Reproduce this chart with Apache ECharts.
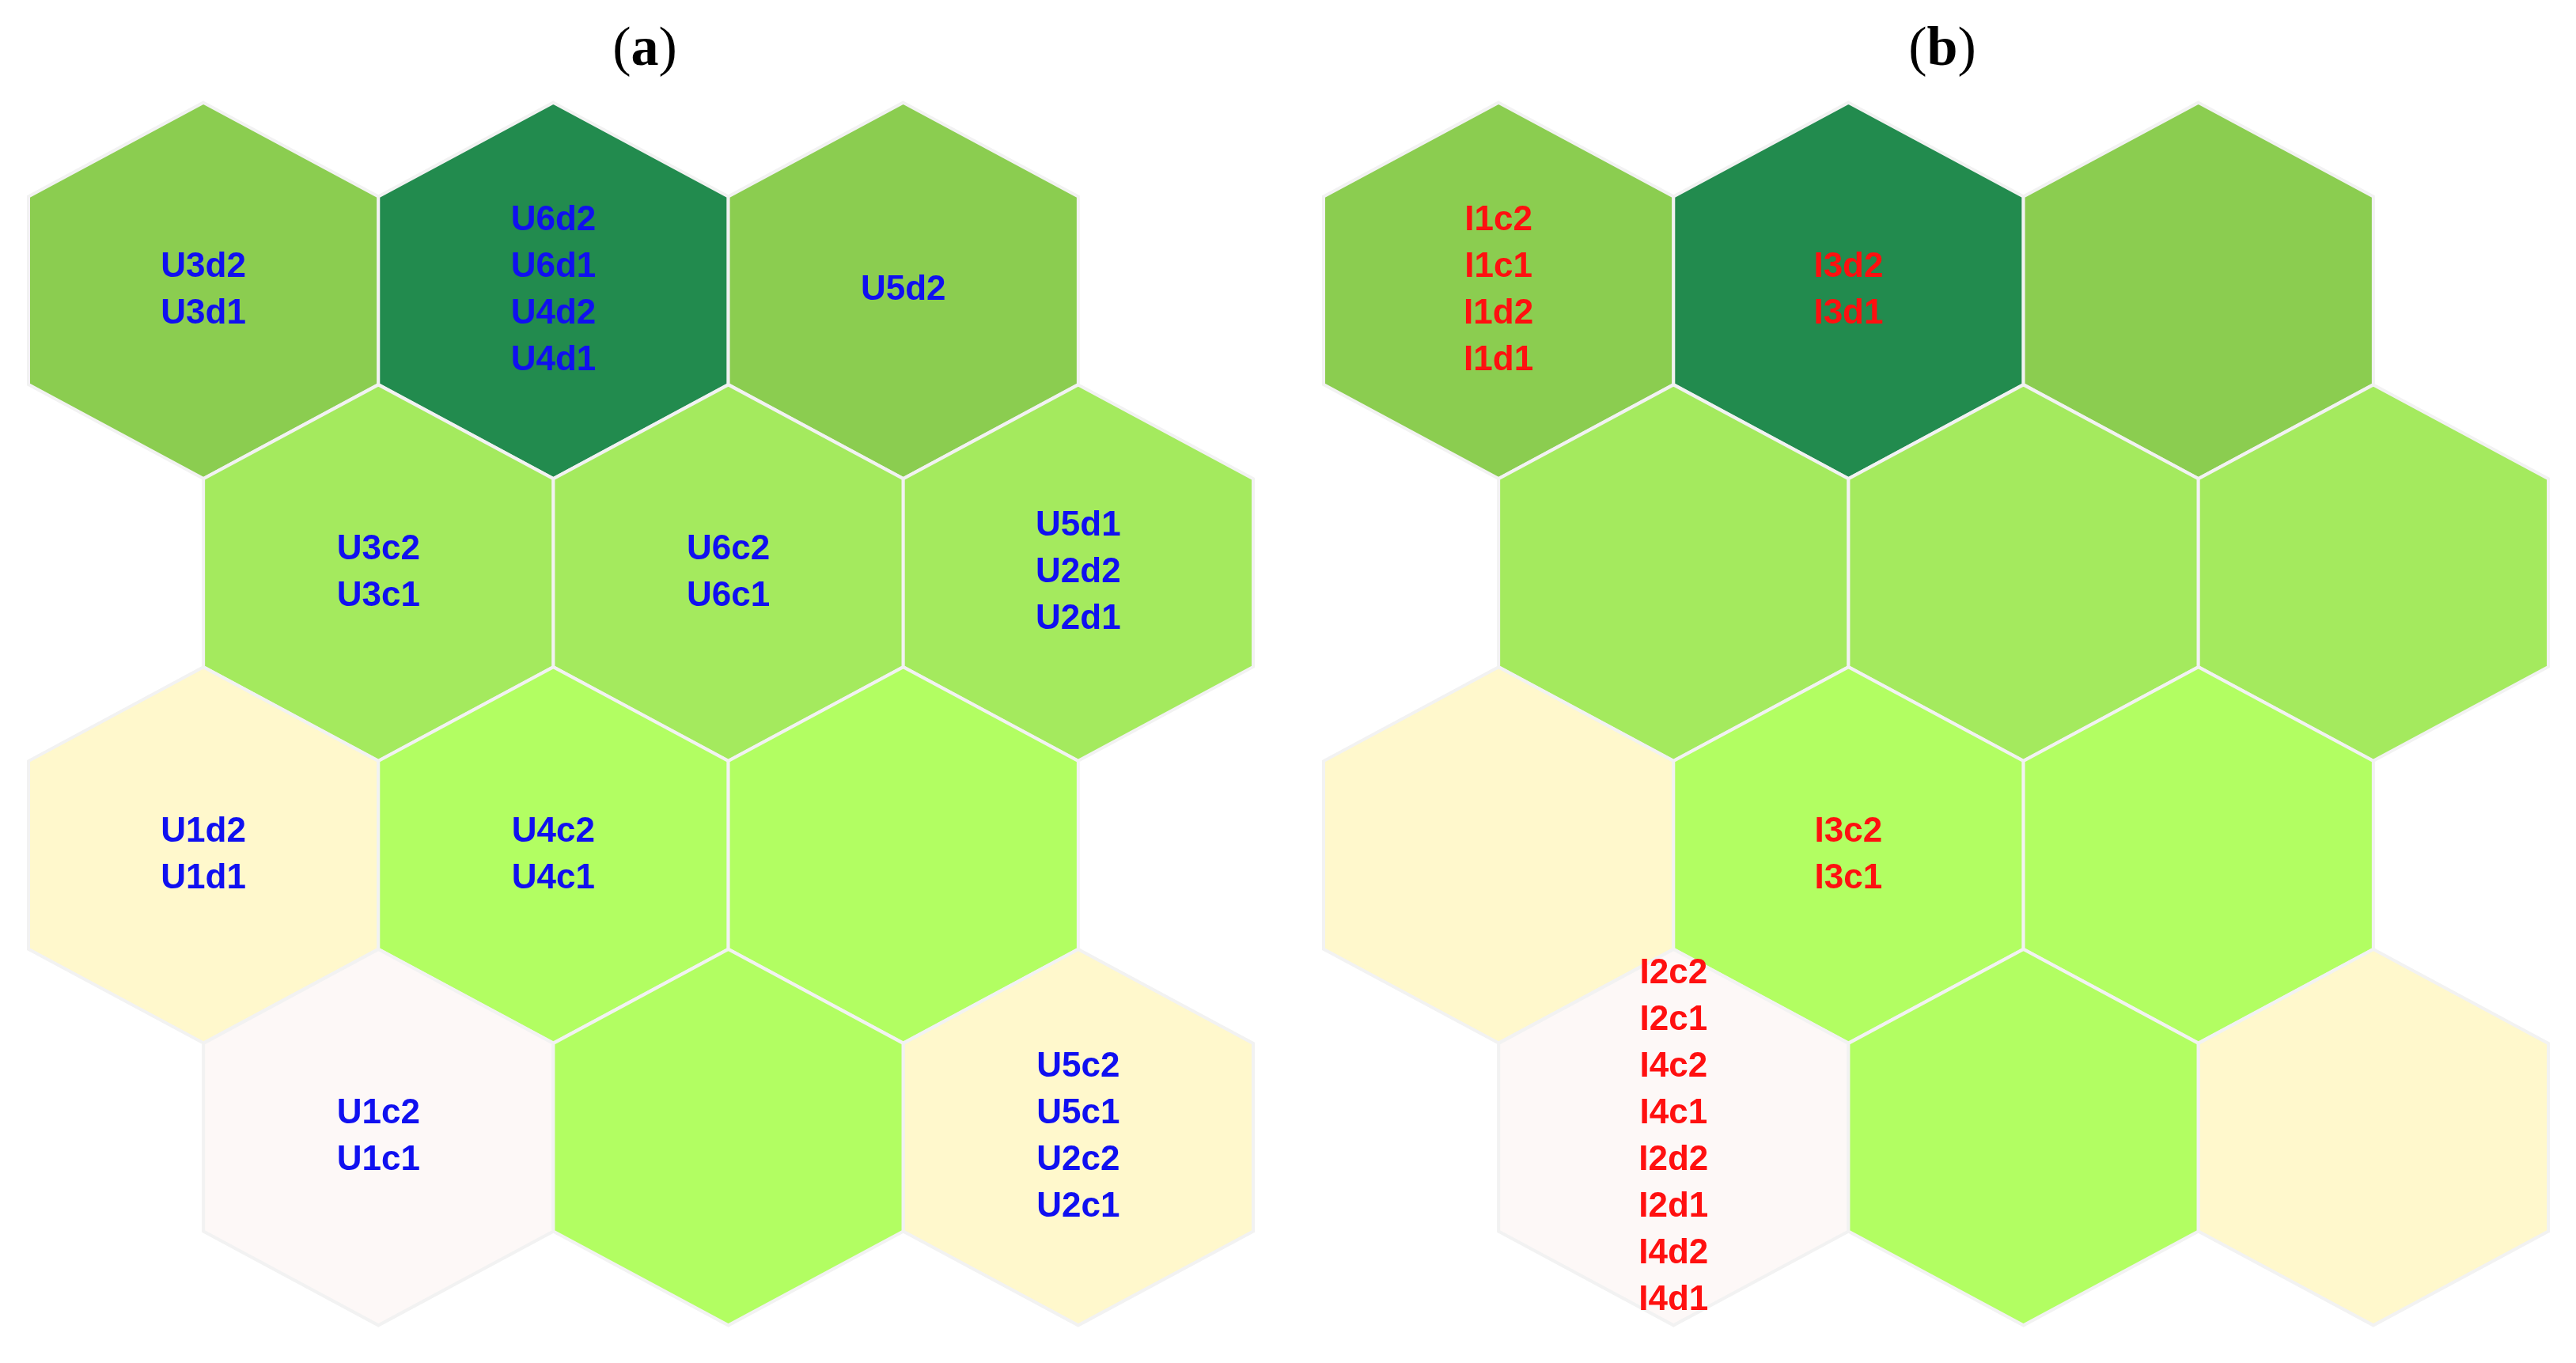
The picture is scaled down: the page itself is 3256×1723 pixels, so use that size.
<!DOCTYPE html>
<html><head><meta charset="utf-8">
<script src="https://cdn.jsdelivr.net/npm/echarts@6/dist/echarts.min.js"></script>
<style>html,body{margin:0;background:#fff}#main{width:3256px;height:1723px}</style>
</head><body><div id="main"></div>
<script>
// hex map: 4 rows x 3 cols, odd rows shifted half a cell
let cellRow = [0,0,0, 1,1,1, 2,2,2, 3,3,3];
let cellCol = [0,1,2, 0,1,2, 0,1,2, 0,1,2];
// distance level of each cell (0 = darkest)
let cellLevel = [1,0,1, 2,2,2, 4,3,3, 5,3,4];
let levelColors = ['#228b4e','#8bcd50','#a4ea5e','#b2fe62','#fff8cc','#fdf8f7'];
let labelsA = [
  'U3d2\nU3d1','U6d2\nU6d1\nU4d2\nU4d1','U5d2',
  'U3c2\nU3c1','U6c2\nU6c1','U5d1\nU2d2\nU2d1',
  'U1d2\nU1d1','U4c2\nU4c1','',
  'U1c2\nU1c1','','U5c2\nU5c1\nU2c2\nU2c1'
];
let labelsB = [
  'I1c2\nI1c1\nI1d2\nI1d1','I3d2\nI3d1','',
  '','','',
  '','I3c2\nI3c1','',
  'I2c2\nI2c1\nI4c2\nI4c1\nI2d2\nI2d1\nI4d2\nI4d1','',''
];

const H = 0.666;
function buildData(){
  return cellRow.map((r,i)=>[cellCol[i] + (r%2)*0.5, r, cellLevel[i]]);
}
function renderHex(color, labels){
  return function(params, api){
    let x = api.value(0), y = api.value(1);
    let pts = [[0,-H],[0.5,-H/2],[0.5,H/2],[0,H],[-0.5,H/2],[-0.5,-H/2]].map(d=>api.coord([x+d[0], y+d[1]]));
    let c = api.coord([x,y]);
    return {type:'group', children:[
      {type:'polygon', shape:{points:pts}, style:{fill:levelColors[api.value(2)], stroke:'#f2f2f2', lineWidth:4}},
      {type:'text', x:c[0], y:c[1], z2:10, style:{text:labels[params.dataIndex], fill:color,
        font:'bold 44px "Liberation Sans", Arial, sans-serif', lineHeight:59, align:'center', verticalAlign:'middle'}}
    ]};
  };
}
function axes(i){
  return {
    x:{type:'value', gridIndex:i, min:-0.5, max:3.0, show:false},
    y:{type:'value', gridIndex:i, min:-0.665, max:3.665, inverse:true, show:false}
  };
}
let a0 = axes(0), a1 = axes(1);
let chart = echarts.init(document.getElementById('main'));
chart.setOption({
  animation:false,
  title:[
    {text:'({a|a})', left:810, top:24, textAlign:'center', textStyle:{fontFamily:'Liberation Serif', fontSize:70, fontWeight:'normal', color:'#000', rich:{a:{fontFamily:'Liberation Serif', fontSize:70, fontWeight:'bold'}}}},
    {text:'({a|b})', left:2450, top:24, textAlign:'center', textStyle:{fontFamily:'Liberation Serif', fontSize:70, fontWeight:'normal', color:'#000', rich:{a:{fontFamily:'Liberation Serif', fontSize:70, fontWeight:'bold'}}}}
  ],
  grid:[
    {left:36, top:130, width:1548, height:1545},
    {left:1673, top:130, width:1548, height:1545}
  ],
  xAxis:[a0.x, a1.x],
  yAxis:[a0.y, a1.y],
  series:[
    {type:'custom', xAxisIndex:0, yAxisIndex:0, data:buildData(), renderItem:renderHex('#1010f0', labelsA), clip:false},
    {type:'custom', xAxisIndex:1, yAxisIndex:1, data:buildData(), renderItem:renderHex('#ff1010', labelsB), clip:false}
  ]
});
</script></body></html>
